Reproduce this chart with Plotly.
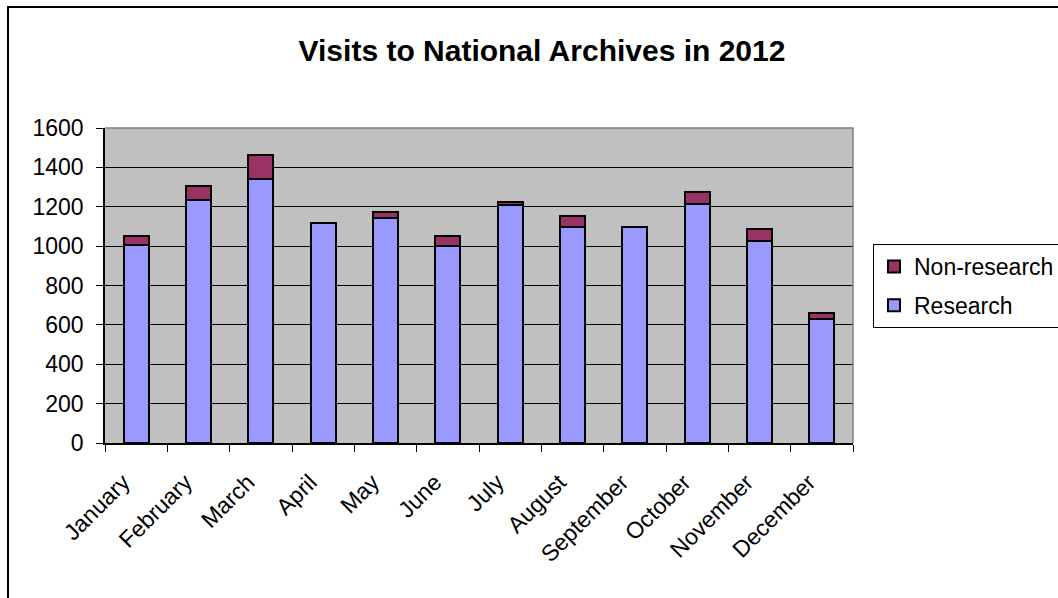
import plotly.graph_objects as go

months = ["January", "February", "March", "April", "May", "June",
          "July", "August", "September", "October", "November", "December"]
research = [1005, 1235, 1340, 1115, 1145, 1000, 1210, 1095, 1095, 1215, 1025, 630]
non_research = [45, 70, 125, 0, 30, 50, 15, 60, 0, 60, 60, 30]
y_ticks = [0, 200, 400, 600, 800, 1000, 1200, 1400, 1600]

FONT = "Liberation Sans, Arial, sans-serif"
W, H = 1058, 598
L, R, T, B = 105, 205, 128, 155
PW, PH = W - L - R, H - T - B


def px_x(x):
    return (x - L) / PW


def px_y(y):
    return 1 - (y - T) / PH


fig = go.Figure()
fig.add_trace(go.Bar(
    x=months, y=research, name="Research", legendgroup="r", legendrank=2,
    marker=dict(color="#9999FF", line=dict(color="black", width=2)),
))
fig.add_trace(go.Bar(
    x=months, y=non_research, name="Non-research", legendgroup="n", legendrank=1,
    marker=dict(color="#993366", line=dict(color="black", width=2)),
))

fig.update_layout(
    width=W, height=H,
    margin=dict(l=L, r=R, t=T, b=B, autoexpand=False),
    barmode="stack",
    bargap=0.6,
    paper_bgcolor="white",
    plot_bgcolor="#C0C0C0",
    font=dict(family=FONT, size=23, color="black"),
    title=dict(
        text="<b>Visits to National Archives in 2012</b>",
        x=542 / W, xanchor="center", xref="container",
        y=1 - 50 / H, yanchor="middle", yref="container",
        font=dict(family=FONT, size=30, color="black"),
    ),
    legend=dict(
        x=px_x(873), xanchor="left",
        y=px_y(244), yanchor="top",
        traceorder="grouped",
        tracegroupgap=6,
        bgcolor="white",
        bordercolor="black", borderwidth=1,
        font=dict(family=FONT, size=23, color="black"),
        itemwidth=30,
    ),
    showlegend=True,
)

fig.update_xaxes(
    type="category",
    tickangle=-45,
    tickson="boundaries",
    ticks="outside", ticklen=7, tickcolor="black", tickwidth=1,
    ticklabelstandoff=15,
    ticklabelshift=-13,
    showline=True, linecolor="black", linewidth=1.5,
    showgrid=False,
    tickfont=dict(family=FONT, size=23, color="black"),
)
fig.update_yaxes(
    range=[0, 1600],
    tickvals=y_ticks,
    ticktext=[str(v) for v in y_ticks],
    ticks="outside", ticklen=7, tickcolor="black", tickwidth=1,
    ticklabelstandoff=8,
    showline=True, linecolor="black", linewidth=1.5,
    showgrid=True, gridcolor="black", gridwidth=1,
    zeroline=False,
    tickfont=dict(family=FONT, size=23, color="black"),
)

# grey frame on top and right of the plot area
fig.add_shape(
    type="path", xref="paper", yref="paper",
    path="M 0 1 L 1 1 L 1 0",
    line=dict(color="#808080", width=1.5),
)
# outer chart border (left and top)
fig.add_shape(
    type="path", xref="paper", yref="paper",
    path=f"M {px_x(8)} {px_y(620)} L {px_x(8)} {px_y(7)} L {px_x(1080)} {px_y(7)}",
    line=dict(color="black", width=2),
)

fig.write_html("out.html")
